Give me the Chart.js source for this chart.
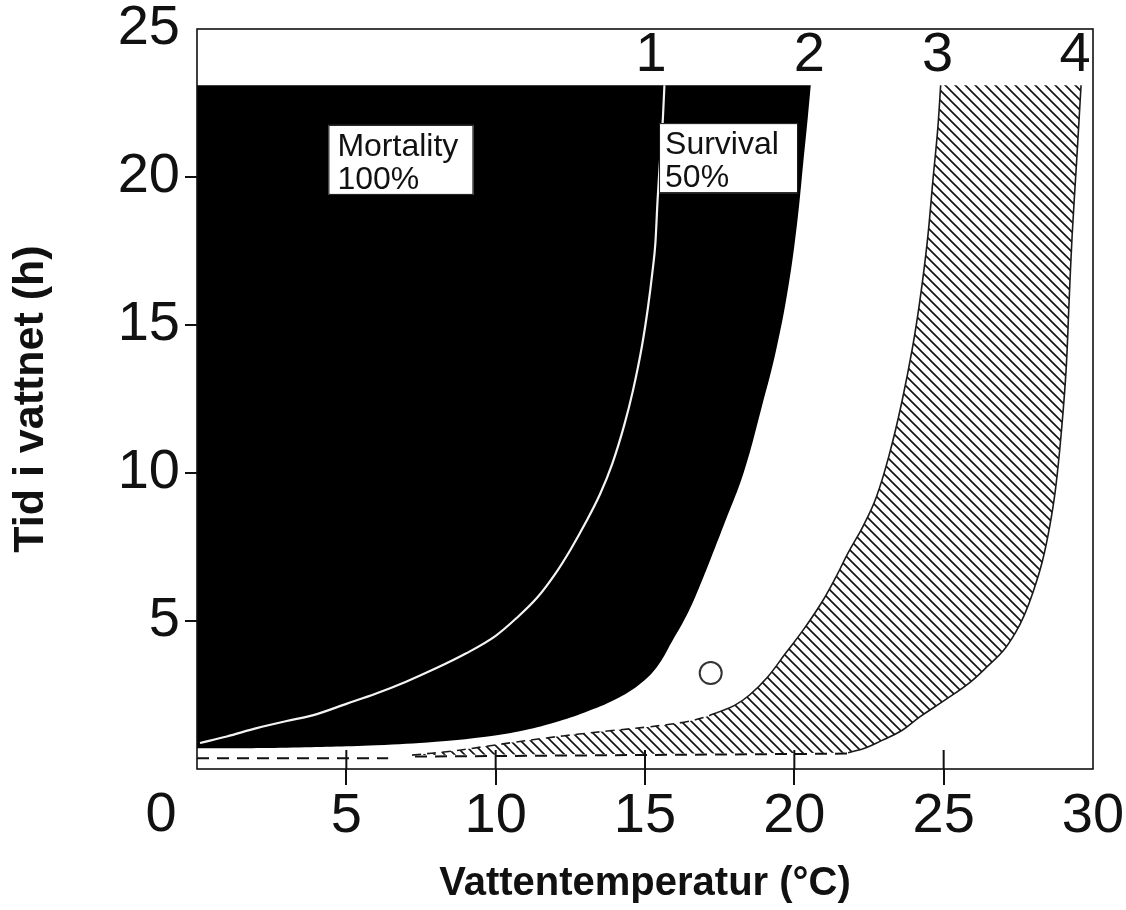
<!DOCTYPE html>
<html><head><meta charset="utf-8">
<script src="https://cdn.jsdelivr.net/npm/chart.js@4.4.1/dist/chart.umd.min.js"></script>
<style>html,body{margin:0;padding:0;background:#fff;}canvas{display:block;}</style>
</head><body>
<canvas id="c" width="1126" height="910"></canvas>
<script>
// ---- data ----
const xTicks = [0, 5, 10, 15, 20, 25, 30];
const yTicks = [0, 5, 10, 15, 20, 25];
// curve 1: white line inside the black area (100 % mortality limit)
const curve1X = [0.1, 1, 2, 3, 3.9, 5, 6, 7, 8, 9, 10, 10.7, 11.4, 12, 12.5, 13, 13.5, 13.9, 14.3, 14.6, 14.9, 15.1, 15.25, 15.35, 15.42, 15.5, 15.6, 15.65];
const curve1Y = [0.88, 1.1, 1.38, 1.62, 1.82, 2.2, 2.55, 2.95, 3.4, 3.9, 4.5, 5.1, 5.8, 6.6, 7.4, 8.3, 9.3, 10.3, 11.6, 12.8, 14.3, 15.6, 16.8, 17.8, 19.2, 20.5, 22.0, 23.1];
// curve 2: lower / right edge of the black area
const curve2X = [0, 3, 6, 8, 9.6, 11, 12, 13, 14, 14.8, 15.4, 15.9, 16.4, 16.8, 17.2, 17.7, 18.3, 18.9, 19.4, 19.8, 20.1, 20.3, 20.45, 20.55];
const curve2Y = [0.70, 0.72, 0.80, 0.92, 1.08, 1.32, 1.58, 1.92, 2.35, 2.85, 3.45, 4.3, 5.2, 6.1, 7.1, 8.4, 10.0, 12.2, 14.2, 16.3, 18.5, 20.5, 22.0, 23.1];
const topY = 23.1;
// curve 3: left edge of the hatched band
const curve3X = [7.2, 8.5, 9.5, 10.6, 11.7, 12.8, 13.9, 15.1, 16.3, 16.9, 17.4, 18.0, 18.5, 19.1, 19.7, 20.3, 20.9, 21.4, 21.8, 22.3, 22.75, 23.2, 23.6, 23.95, 24.2, 24.45, 24.65, 24.8, 24.9];
const curve3Y = [0.47, 0.6, 0.74, 0.9, 1.05, 1.18, 1.3, 1.42, 1.58, 1.72, 1.9, 2.15, 2.5, 3.1, 3.9, 4.7, 5.6, 6.5, 7.3, 8.2, 9.2, 10.7, 12.4, 14.2, 15.8, 17.8, 20.0, 21.6, 23.1];
// curve 4: right edge of the hatched band
const curve4X = [21.8, 22.4, 22.9, 23.6, 24.2, 25.0, 25.85, 26.5, 27.0, 27.4, 27.7, 28.0, 28.3, 28.55, 28.75, 28.95, 29.1, 29.2, 29.3, 29.45, 29.6];
const curve4Y = [0.55, 0.72, 0.95, 1.3, 1.76, 2.3, 2.9, 3.5, 4.0, 4.6, 5.2, 6.0, 7.0, 8.2, 9.5, 11.5, 13.5, 15.8, 18.0, 20.5, 23.1];
// dashed base lines
const dashAX = [0, 6.4], dashAY = [0.36, 0.36];
const dashBX = [7.3, 21.8], dashBY = [0.42, 0.52];
// single open circle
const markerX = [17.2], markerY = [3.24];
// curve numbers
const curveLabels = ['1', '2', '3', '4'];
const curveLabelX = [15.2, 20.5, 24.8, 29.4];
const curveLabelY = 24.1;
// text boxes
const boxLines = [['Mortality', '100%'], ['Survival', '50%']];
const boxX = [4.4, 15.47];
const boxY = [21.76, 21.82];

// ---- helpers ----
const pts = (xs, ys) => xs.map((x, i) => ({x: x, y: ys[i]}));
const FONT = "'Liberation Sans', Arial, Helvetica, sans-serif";
const TENSION = 0.4;

function hatchPattern() {
  const c = document.createElement('canvas');
  c.width = 10; c.height = 10;
  const g = c.getContext('2d');
  g.strokeStyle = '#111';
  g.lineWidth = 1.6;
  g.beginPath();
  g.moveTo(-2, -2); g.lineTo(12, 12);
  g.moveTo(8, -2); g.lineTo(12, 2);
  g.moveTo(-2, 8); g.lineTo(2, 12);
  g.stroke();
  return g.createPattern(c, 'repeat');
}

// closed shapes (corner points repeated so the spline keeps them sharp)
const c2 = pts(curve2X, curve2Y);
const blackPoly = c2.concat([c2[c2.length - 1], {x: curve2X[0], y: topY}]);
const c3 = pts(curve3X, curve3Y);
const c4r = pts(curve4X, curve4Y).reverse();
const hatchPoly = c3.concat([c3[c3.length - 1], c4r[0]], c4r);

const extras = {
  id: 'extras',
  afterDatasetsDraw(chart) {
    const {ctx, chartArea: a, scales: {x, y}} = chart;
    ctx.save();
    // frame
    ctx.strokeStyle = '#111';
    ctx.lineWidth = 1.6;
    ctx.strokeRect(a.left, a.top, a.right - a.left, a.bottom - a.top);
    // inner part of x tick marks
    ctx.lineWidth = 2;
    xTicks.forEach(v => {
      if (v === 0 || v === 30) return;
      const px = x.getPixelForValue(v);
      ctx.beginPath(); ctx.moveTo(px, a.bottom); ctx.lineTo(px, a.bottom - 19); ctx.stroke();
    });
    // curve numbers
    ctx.fillStyle = '#111';
    ctx.font = '56px ' + FONT;
    ctx.textAlign = 'center';
    ctx.textBaseline = 'middle';
    curveLabels.forEach((t, i) => ctx.fillText(t, x.getPixelForValue(curveLabelX[i]), y.getPixelForValue(curveLabelY)));
    // the "0" of the x axis sits left of the corner
    ctx.fillText('0', x.getPixelForValue(0) - 36, a.bottom + 47);
    // text boxes
    const bw = [145, 139], pad = [9, 6];
    boxLines.forEach((lines, i) => {
      const l = x.getPixelForValue(boxX[i]), t = y.getPixelForValue(boxY[i]);
      ctx.fillStyle = '#fff';
      ctx.fillRect(l, t, bw[i], 70);
      ctx.strokeStyle = '#111'; ctx.lineWidth = 1;
      ctx.strokeRect(l + 0.5, t + 0.5, bw[i] - 1, 69);
      ctx.fillStyle = '#111';
      ctx.font = '32px ' + FONT;
      ctx.textAlign = 'left';
      ctx.textBaseline = 'alphabetic';
      ctx.fillText(lines[0], l + pad[i], t + 31);
      ctx.fillText(lines[1], l + pad[i], t + 64);
    });
    ctx.restore();
  }
};

const tickColor = ends => c => (c.tick && ends.includes(c.tick.value)) ? 'rgba(0,0,0,0)' : '#111';

new Chart(document.getElementById('c'), {
  type: 'scatter',
  data: {
    datasets: [
      {data: blackPoly, showLine: true, fill: 'shape', backgroundColor: '#000', borderColor: '#000', borderWidth: 0, tension: TENSION, order: 10},
      {data: hatchPoly, showLine: true, fill: 'shape', backgroundColor: hatchPattern(), borderWidth: 0, borderColor: 'rgba(0,0,0,0)', tension: TENSION, order: 9},
      {data: c3, showLine: true, borderColor: '#1a1a1a', borderWidth: 1.6, tension: TENSION,
        segment: {borderDash: c => c.p0.parsed.x < 17.2 ? [9, 6] : undefined}, order: 6},
      {data: pts(curve4X, curve4Y), showLine: true, borderColor: '#1a1a1a', borderWidth: 1.6, tension: TENSION, order: 6},
      {data: pts(dashAX, dashAY), showLine: true, borderColor: '#111', borderWidth: 2, borderDash: [12, 8], order: 5},
      {data: pts(dashBX, dashBY), showLine: true, borderColor: '#111', borderWidth: 2, borderDash: [12, 8], order: 5},
      {data: pts(curve1X, curve1Y), showLine: true, borderColor: '#f4f4f4', borderWidth: 2.2, cubicInterpolationMode: 'monotone', order: 2},
      {data: pts(markerX, markerY), showLine: false, pointRadius: 11, pointStyle: 'circle', pointBorderColor: '#333', pointBorderWidth: 2, pointBackgroundColor: '#fff', order: 1}
    ]
  },
  options: {
    responsive: false,
    animation: false,
    events: [],
    layout: {padding: {left: 0, top: 29, right: 33, bottom: 0}},
    plugins: {legend: {display: false}, tooltip: {enabled: false}},
    elements: {point: {radius: 0, hoverRadius: 0}},
    scales: {
      x: {
        type: 'linear', min: 0, max: 30, position: 'bottom',
        afterBuildTicks: s => { s.ticks = xTicks.map(v => ({value: v})); },
        ticks: {font: {family: FONT, size: 56}, color: '#111', padding: -2, autoSkip: false, maxRotation: 0,
          callback: v => v === 0 ? '' : String(v)},
        grid: {display: true, drawOnChartArea: false, drawTicks: true, tickLength: 16, lineWidth: 2, color: tickColor([0, 30])},
        border: {display: false},
        title: {display: true, text: 'Vattentemperatur (°C)', color: '#111', font: {family: FONT, size: 40, weight: 'bold'}, padding: {top: 0, bottom: 2}},
        afterFit: s => { s.height = 141; s.paddingLeft = 0; s.paddingRight = 0; }
      },
      y: {
        type: 'linear', min: 0, max: 25, position: 'left',
        afterBuildTicks: s => { s.ticks = yTicks.map(v => ({value: v})); },
        ticks: {font: {family: FONT, size: 56}, color: '#111', padding: 5, autoSkip: false,
          callback: v => v === 0 ? '' : String(v)},
        grid: {display: true, drawOnChartArea: false, drawTicks: true, tickLength: 12, lineWidth: 2, color: tickColor([0, 25])},
        border: {display: false},
        title: {display: true, text: 'Tid i vattnet (h)', color: '#111', font: {family: FONT, size: 43, weight: 'bold'}, padding: {top: 5, bottom: 0}},
        afterFit: s => { s.width = 197; s.paddingTop = 0; s.paddingBottom = 0; }
      }
    }
  },
  plugins: [extras]
});
</script>
</body></html>
